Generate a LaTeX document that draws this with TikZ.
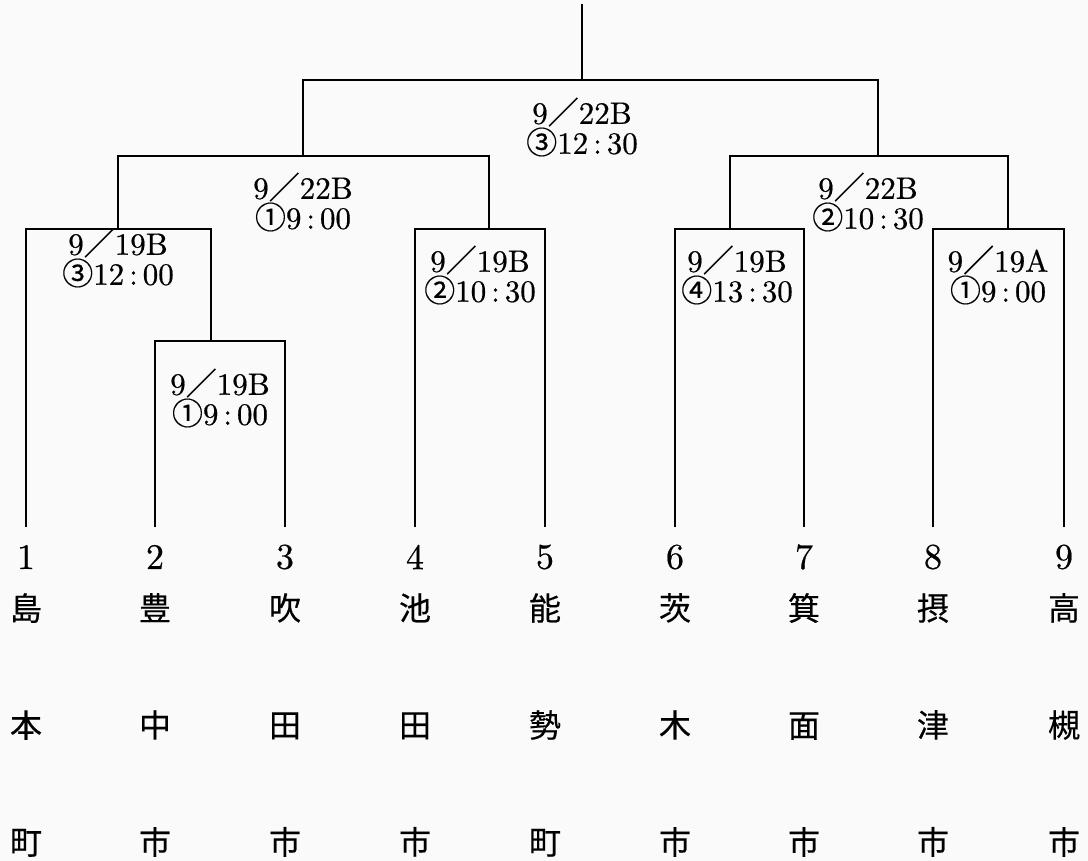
\documentclass[tikz,border=0pt]{standalone}
\usepackage{fontspec}
\setmainfont{lmroman10-regular.otf}[BoldFont=lmroman10-regular.otf, BoldFeatures={FakeBold=0.6}]
\newfontfamily\cjk{Noto Sans CJK JP}[FakeBold=0.4]
\usetikzlibrary{positioning}
\newcommand{\dslash}{{\mdseries\cjk ／}}
\newcommand{\rnd}[1]{{\mdseries\cjk #1}}
\newcommand{\tcolon}{\hspace{0.16em}:\hspace{0.16em}}

\begin{document}
\begin{tikzpicture}[
  x=1pt, y=-1pt,
  bracket/.style={draw, line width=2.3pt},
  slot/.style={font=\bfseries\fontsize{31}{30}\selectfont, align=center, inner sep=0pt},
  seed/.style={font=\bfseries\fontsize{36}{36}\selectfont, inner sep=0pt},
  team/.style={font=\cjk\fontsize{32}{117}\selectfont, align=center, inner sep=0pt}
]
  \fill[black!2] (0,0) rectangle (1088,861);
  \useasboundingbox (0,0) rectangle (1088,861);

  % ── seeds ──
  \node[seed] (s1) at (26,557) {1};
  \node[seed] (s2) at (155,557) {2};
  \node[seed] (s3) at (285,557) {3};
  \node[seed] (s4) at (415,557) {4};
  \node[seed] (s5) at (545,557) {5};
  \node[seed] (s6) at (675,557) {6};
  \node[seed] (s7) at (804,557) {7};
  \node[seed] (s8) at (933,557) {8};
  \node[seed] (s9) at (1064,557) {9};

  \node[team] (n1) at (26,725) {島\\本\\町};
  \node[team] (n2) at (155,725) {豊\\中\\市};
  \node[team] (n3) at (285,725) {吹\\田\\市};
  \node[team] (n4) at (415,725) {池\\田\\市};
  \node[team] (n5) at (545,725) {能\\勢\\町};
  \node[team] (n6) at (675,725) {茨\\木\\市};
  \node[team] (n7) at (804,725) {箕\\面\\市};
  \node[team] (n8) at (933,725) {摂\\津\\市};
  \node[team] (n9) at (1064,725) {高\\槻\\市};

  % ── line feet and junctions ──
  \coordinate (p1) at (26,527);
  \coordinate (p2) at (155,527);
  \coordinate (p3) at (285,527);
  \coordinate (p4) at (415,527);
  \coordinate (p5) at (545,527);
  \coordinate (p6) at (675,527);
  \coordinate (p7) at (804,527);
  \coordinate (p8) at (933,527);
  \coordinate (p9) at (1064,527);
  \coordinate (mA) at (211,341);
  \coordinate (mB) at (118,229);
  \coordinate (mC) at (489,229);
  \coordinate (mD) at (303,156);
  \coordinate (mE) at (730,229);
  \coordinate (mF) at (1008,229);
  \coordinate (mG) at (878,156);
  \coordinate (final) at (582,80);
  \coordinate (top) at (582,4);

  % ── bracket ──
  \draw[bracket] (p2) |- (mA) -| (p3);
  \draw[bracket] (p1) |- (mB) -| (mA);
  \draw[bracket] (p4) |- (mC) -| (p5);
  \draw[bracket] (mB) |- (mD) -| (mC);
  \draw[bracket] (p6) |- (mE) -| (p7);
  \draw[bracket] (p8) |- (mF) -| (p9);
  \draw[bracket] (mE) |- (mG) -| (mF);
  \draw[bracket] (mD) |- (final) -| (mG);
  \draw[bracket] (final) -- (top);

  % ── match slots ──
  \node[slot] (lA) at (220,398) {9\dslash 19B\\\rnd{①}9\tcolon 00};
  \node[slot] (lB) at (118,258) {9\dslash 19B\\\rnd{③}12\tcolon 00};
  \node[slot] (lC) at (480,275) {9\dslash 19B\\\rnd{②}10\tcolon 30};
  \node[slot] (lD) at (303,202) {9\dslash 22B\\\rnd{①}9\tcolon 00};
  \node[slot] (lE) at (737,275) {9\dslash 19B\\\rnd{④}13\tcolon 30};
  \node[slot] (lF) at (998,275) {9\dslash 19A\\\rnd{①}9\tcolon 00};
  \node[slot] (lG) at (868,202) {9\dslash 22B\\\rnd{②}10\tcolon 30};
  \node[slot] (lFinal) at (582,127) {9\dslash 22B\\\rnd{③}12\tcolon 30};
\end{tikzpicture}
\end{document}
